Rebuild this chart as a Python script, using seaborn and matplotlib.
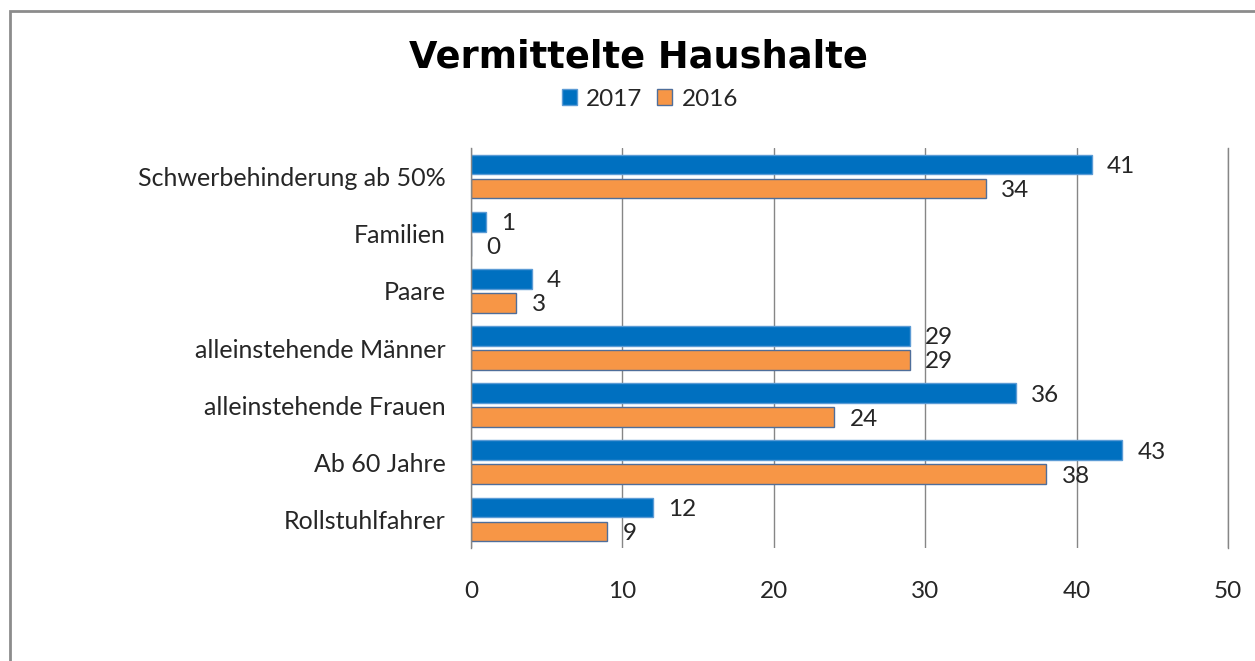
import pandas as pd
import matplotlib.pyplot as plt
import seaborn as sns
from matplotlib.patches import Rectangle, Patch

# Daten
kategorien = ["Schwerbehinderung ab 50%", "Familien", "Paare", "alleinstehende Männer",
              "alleinstehende Frauen", "Ab 60 Jahre", "Rollstuhlfahrer"]
werte_2017 = [41, 1, 4, 29, 36, 43, 12]
werte_2016 = [34, 0, 3, 29, 24, 38, 9]
jahre = ["2017", "2016"]

df = pd.DataFrame({
    "Kategorie": kategorien * 2,
    "Jahr": [jahre[0]] * len(kategorien) + [jahre[1]] * len(kategorien),
    "Anzahl": werte_2017 + werte_2016,
})

sns.set_style("white")
plt.rcParams['font.family'] = ['Lato', 'DejaVu Sans']

fig = plt.figure(figsize=(12.55, 6.61), dpi=100)
ax = fig.add_axes([471 / 1255, 1 - 548 / 661, (1228 - 471) / 1255, 400 / 661])

farben = {"2017": "#0070C0", "2016": "#F79646"}
sns.barplot(data=df, y="Kategorie", x="Anzahl", hue="Jahr", order=kategorien,
            hue_order=jahre, palette=farben, orient="h", width=0.84, gap=0.18,
            saturation=1, ax=ax, legend=False)

kanten = ["#5B9BD5", "#4F6E9A"]
for cont, kante in zip(ax.containers, kanten):
    for p in cont:
        p.set_edgecolor(kante)
        p.set_linewidth(1)
    txts = ax.bar_label(cont, padding=11, fontsize=17.5, color="#262626")
    for t in txts:
        t.set_va("center_baseline")

ax.set_xlim(0, 50)
ax.set_xticks(range(0, 51, 10))
ax.grid(axis="x", color="#868686", linewidth=1)
ax.set_axisbelow(True)
for s in ["top", "bottom"]:
    ax.spines[s].set_visible(False)
for s in ["left", "right"]:
    ax.spines[s].set_color("#868686")
    ax.spines[s].set_linewidth(1)
ax.set_xlabel("")
ax.set_ylabel("")
ax.tick_params(axis="x", length=0, pad=24, labelsize=17.5, labelcolor="#262626")
ax.tick_params(axis="y", length=0, pad=18, labelsize=18, labelcolor="#262626")

fig.text(638 / 1255, 1 - 57 / 661, "Vermittelte Haushalte", ha="center", va="center",
         fontsize=26.5, fontweight="bold", family="DejaVu Sans", color="black")

# Legende
griffe = [Patch(facecolor=farben[j], edgecolor=k) for j, k in zip(jahre, kanten)]
fig.legend(griffe, jahre, loc="center", bbox_to_anchor=(650 / 1255, 1 - 99 / 661),
           ncol=2, frameon=False, fontsize=17.5, handlelength=0.6, handleheight=0.6,
           handletextpad=0.4, columnspacing=0.6)

# Rahmen
fig.patches.append(Rectangle((10 / 1255, -0.1), 1.2, 1 - 11 / 661 + 0.1,
                             transform=fig.transFigure, fill=False,
                             edgecolor="#8C8C8C", linewidth=2))

fig.savefig("out.png", dpi=100)
